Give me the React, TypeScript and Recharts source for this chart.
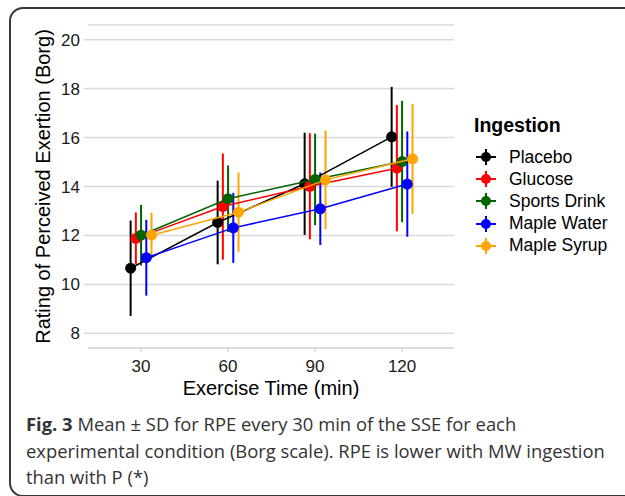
import { ComposedChart, Scatter, XAxis, YAxis, CartesianGrid, ErrorBar, Label } from "recharts"

// exercise time points (min)
const times = [30, 60, 90, 120]

// mean and SD of RPE (Borg) per condition
const placeboMean = [10.66, 12.53, 14.11, 16.03]
const placeboSd = [1.95, 1.71, 2.09, 2.04]
const glucoseMean = [11.88, 13.18, 14.01, 14.75]
const glucoseSd = [1.06, 2.17, 2.17, 2.58]
const sportsMean = [12.01, 13.5, 14.29, 15.02]
const sportsSd = [1.24, 1.36, 1.87, 2.48]
const mapleWaterMean = [11.09, 12.31, 13.09, 14.1]
const mapleWaterSd = [1.55, 1.43, 1.48, 2.15]
const mapleSyrupMean = [12.01, 12.95, 14.27, 15.13]
const mapleSyrupSd = [0.92, 1.62, 2.02, 2.25]

const groups = ["Placebo", "Glucose", "Sports Drink", "Maple Water", "Maple Syrup"]
const colors = ["#000000", "#ff0000", "#006400", "#0000ff", "#ffa500"]
const yTicks = [8, 10, 12, 14, 16, 18, 20]

const means = [placeboMean, glucoseMean, sportsMean, mapleWaterMean, mapleSyrupMean]
const sds = [placeboSd, glucoseSd, sportsSd, mapleWaterSd, mapleSyrupSd]

// position_dodge style offsets so the bars don't overlap
const dodge = [-3.6, -1.8, 0, 1.8, 3.6]

const series = groups.map((name, i) => ({
  name,
  color: colors[i],
  data: times.map((t, j) => ({ x: t + dodge[i], y: means[i][j], sd: sds[i][j] })),
}))

const FONT = "'Liberation Sans', Arial, Helvetica, sans-serif"
const GRID = "#d9d9d9"

const XTitle = ({ viewBox }: any) => (
  <text
    x={viewBox.x + viewBox.width / 2}
    y={viewBox.y + 47}
    textAnchor="middle"
    fontSize={20}
    fontFamily={FONT}
    fill="#000"
  >
    Exercise Time (min)
  </text>
)

const YTitle = ({ viewBox }: any) => {
  const x = viewBox.x + 22
  const y = viewBox.y + viewBox.height / 2
  return (
    <text
      x={x}
      y={y}
      transform={`rotate(-90, ${x}, ${y})`}
      textAnchor="middle"
      fontSize={20}
      fontFamily={FONT}
      fill="#000"
    >
      Rating of Perceived Exertion (Borg)
    </text>
  )
}

const LegendKey = ({ color }: { color: string }) => (
  <svg width={24} height={22} style={{ display: "block" }}>
    <line x1={2} y1={11} x2={22} y2={11} stroke={color} strokeWidth={2} />
    <line x1={12} y1={3} x2={12} y2={19} stroke={color} strokeWidth={2} />
    <circle cx={12} cy={11} r={5} fill={color} />
  </svg>
)

export default function App() {
  return (
    <div style={{ position: "fixed", left: 0, top: 0, width: 625, height: 496, overflow: "hidden", background: "#fff" }}>
      <div
        style={{
          position: "absolute",
          left: 9,
          top: 7,
          width: 700,
          height: 486,
          border: "2px solid #3a3a3a",
          borderRadius: 14,
        }}
      />
      <div style={{ position: "absolute", left: 0, top: 0 }}>
        <ComposedChart width={625} height={496} margin={{ top: 25, right: 171, left: 28, bottom: 98 }}>
          <CartesianGrid horizontal vertical={false} stroke={GRID} strokeWidth={1.5} />
          <XAxis
            type="number"
            dataKey="x"
            domain={[11.7, 137.9]}
            ticks={times}
            allowDataOverflow
            height={50}
            axisLine={{ stroke: GRID, strokeWidth: 1.5 }}
            tickLine={{ stroke: GRID, strokeWidth: 1.5 }}
            tickSize={4}
            tickMargin={8}
            tick={{ fill: "#1a1a1a", fontSize: 17, fontFamily: FONT }}
          >
            <Label content={<XTitle />} />
          </XAxis>
          <YAxis
            type="number"
            dataKey="y"
            domain={[7.4, 20.6]}
            ticks={yTicks}
            allowDataOverflow
            width={60}
            axisLine={false}
            tickLine={{ stroke: GRID, strokeWidth: 1.5 }}
            tickSize={4}
            tickMargin={4}
            tick={{ fill: "#1a1a1a", fontSize: 17, fontFamily: FONT }}
          >
            <Label content={<YTitle />} />
          </YAxis>
          {series.map((s) => (
            <Scatter
              key={s.name}
              name={s.name}
              data={s.data}
              fill={s.color}
              line={{ stroke: s.color, strokeWidth: 1.5 }}
              lineType="joint"
              isAnimationActive={false}
              shape={(p: any) => <circle cx={p.cx} cy={p.cy} r={5.5} fill={s.color} />}
            >
              <ErrorBar dataKey="sd" direction="y" width={0} stroke={s.color} strokeWidth={2} isAnimationActive={false} />
            </Scatter>
          ))}
        </ComposedChart>
      </div>

      {/* legend */}
      <div style={{ position: "absolute", left: 474, top: 113, fontFamily: FONT, color: "#000" }}>
        <div style={{ fontSize: 19.5, fontWeight: 700, lineHeight: "24px", marginBottom: 9 }}>Ingestion</div>
        {groups.map((g, i) => (
          <div key={g} style={{ display: "flex", alignItems: "center", height: 22.2 }}>
            <LegendKey color={colors[i]} />
            <span style={{ fontSize: 17.5, marginLeft: 11 }}>{g}</span>
          </div>
        ))}
      </div>

      {/* caption */}
      <div
        style={{
          position: "absolute",
          left: 26,
          top: 411,
          fontFamily: "'Open Sans', sans-serif",
          fontSize: 18.4,
          lineHeight: "26.7px",
          color: "#333",
          whiteSpace: "nowrap",
        }}
      >
        <b>Fig. 3</b> Mean ± SD for RPE every 30 min of the SSE for each
        <br />
        experimental condition (Borg scale). RPE is lower with MW ingestion
        <br />
        than with P (*)
      </div>
    </div>
  )
}
